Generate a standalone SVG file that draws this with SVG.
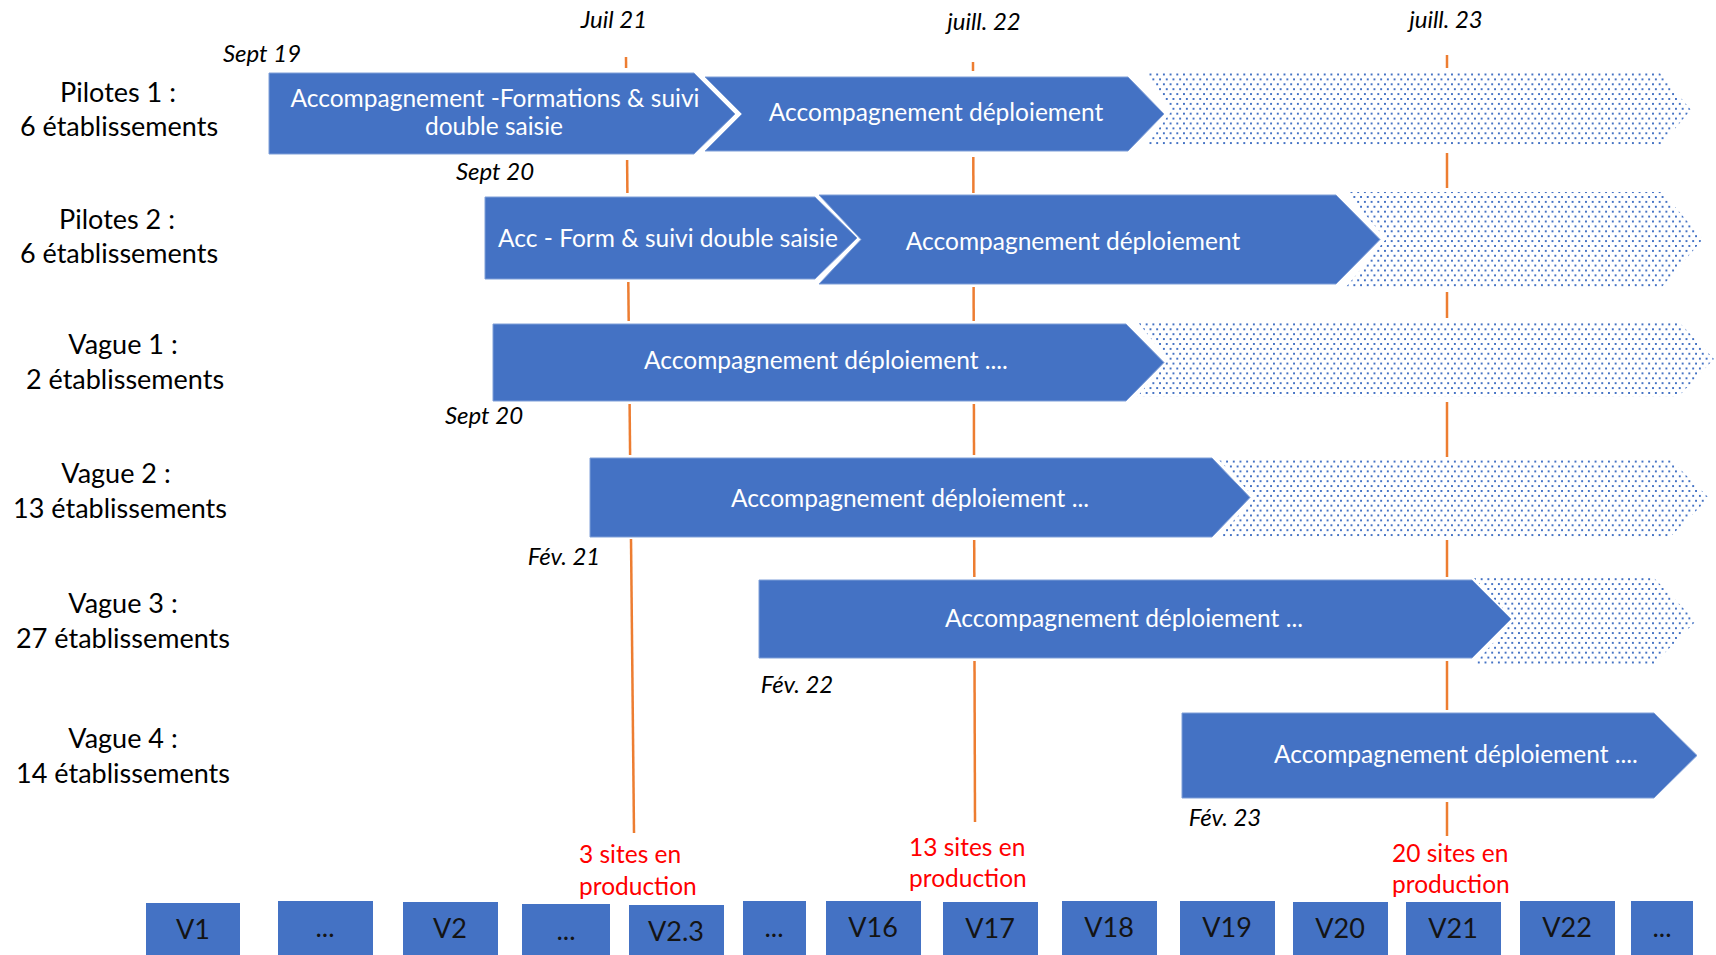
<svg xmlns="http://www.w3.org/2000/svg" width="1716" height="955" viewBox="0 0 1716 955">
<defs>
<pattern id="dots" width="6.7" height="9.8" patternUnits="userSpaceOnUse">
<rect width="6.7" height="9.8" fill="#ffffff"/>
<rect x="0" y="0" width="2.3" height="2.3" fill="#4472C4" shape-rendering="crispEdges"/>
<rect x="3.35" y="4.9" width="2.3" height="2.3" fill="#4472C4" shape-rendering="crispEdges"/>
</pattern>
</defs>
<style>
.bar{fill:#4472C4;stroke:#7f9fd8;stroke-width:1}
.hatch{fill:url(#dots)}
.lbl{font-family:Lato,"Open Sans",sans-serif;font-size:27px;fill:#000;text-anchor:middle}
.bt{font-family:Lato,"Open Sans",sans-serif;font-size:24.5px;fill:#fff;text-anchor:middle}
.dt{font-family:Lato,"Open Sans",sans-serif;font-size:24px;font-style:italic;fill:#000;text-anchor:middle}
.red{font-family:Lato,"Open Sans",sans-serif;font-size:24.5px;fill:#FF0000}
.box{fill:#4472C4}
.bx{font-family:Lato,"Open Sans",sans-serif;font-size:27px;fill:#141414;text-anchor:middle}
.ol{stroke:#ED7D31;stroke-width:2.5;fill:none}
</style>
<rect width="1716" height="955" fill="#ffffff"/>

<g id="connectors">
<line class="ol" x1="626" y1="57" x2="626.1" y2="68"/>
<line class="ol" x1="627.1" y1="160" x2="627.4" y2="193"/>
<line class="ol" x1="628.3" y1="282" x2="628.7" y2="321"/>
<line class="ol" x1="629.6" y1="404" x2="630.1" y2="455"/>
<line class="ol" x1="631" y1="539" x2="634" y2="833"/>
<line class="ol" x1="973" y1="62" x2="973" y2="71"/>
<line class="ol" x1="973.3" y1="157" x2="973.4" y2="193"/>
<line class="ol" x1="973.6" y1="287" x2="973.7" y2="321"/>
<line class="ol" x1="973.9" y1="404" x2="974" y2="455"/>
<line class="ol" x1="974.2" y1="540" x2="974.3" y2="577"/>
<line class="ol" x1="974.5" y1="661" x2="975" y2="822"/>
<line class="ol" x1="1447" y1="55" x2="1447" y2="68"/>
<line class="ol" x1="1447" y1="153" x2="1447" y2="188"/>
<line class="ol" x1="1447" y1="292" x2="1447" y2="318"/>
<line class="ol" x1="1447" y1="402" x2="1447" y2="457"/>
<line class="ol" x1="1447" y1="540" x2="1447" y2="577"/>
<line class="ol" x1="1447" y1="661" x2="1447" y2="710"/>
<line class="ol" x1="1447" y1="802" x2="1447" y2="836"/>
</g>

<g id="dates">
<text class="dt" x="262" y="62">Sept 19</text>
<text class="dt" x="614" y="28">Juil 21</text>
<text class="dt" x="984" y="30">juill. 22</text>
<text class="dt" x="1446" y="28">juill. 23</text>
<text class="dt" x="495" y="180">Sept 20</text>
<text class="dt" x="484" y="424">Sept 20</text>
<text class="dt" x="564" y="565">Fév. 21</text>
<text class="dt" x="797" y="693">Fév. 22</text>
<text class="dt" x="1225" y="826">Fév. 23</text>
</g>

<g id="pilotes1">
<text class="lbl" x="118" y="102">Pilotes 1 :</text>
<text class="lbl" x="119" y="136">6 établissements</text>
<polygon class="hatch" points="1146,73 1660,73 1691,110 1660,146 1146,146 1172,110"/>
<polygon class="bar" points="269,73 694,73 735,114 694,154 269,154"/>
<text class="bt" x="495" y="107">Accompagnement -Formations &amp; suivi</text>
<text class="bt" x="494" y="135">double saisie</text>
<polygon class="bar" points="705,77 1128,77 1164,114 1128,151 705,151 742,114"/>
<text class="bt" x="936" y="121">Accompagnement déploiement</text>
</g>

<g id="pilotes2">
<text class="lbl" x="117" y="229">Pilotes 2 :</text>
<text class="lbl" x="119" y="263">6 établissements</text>
<polygon class="hatch" points="1346,192 1662,192 1703,239 1662,287 1346,287 1386,239"/>
<polygon class="bar" points="819,195 1336,195 1380,239.5 1336,284 819,284 861,239.5"/>
<text class="bt" x="1073" y="250">Accompagnement déploiement</text>
<polygon class="bar" points="485,197 815,197 857,238 815,279 485,279"/>
<text class="bt" x="668" y="247">Acc - Form &amp; suivi double saisie</text>
</g>

<g id="vague1">
<text class="lbl" x="123" y="354">Vague 1 :</text>
<text class="lbl" x="125" y="389">2 établissements</text>
<polygon class="hatch" points="1137,321 1678,321 1714,359 1678,397 1137,397 1168,360"/>
<polygon class="bar" points="493,324 1126,324 1164,362.5 1126,401 493,401"/>
<text class="bt" x="826" y="369">Accompagnement déploiement ....</text>
</g>

<g id="vague2">
<text class="lbl" x="116" y="483">Vague 2 :</text>
<text class="lbl" x="120" y="518">13 établissements</text>
<polygon class="hatch" points="1218,459 1670,459 1709,498 1670,537 1218,537 1255,498"/>
<polygon class="bar" points="590,458 1212,458 1250,497.5 1212,537 590,537"/>
<text class="bt" x="910" y="507">Accompagnement déploiement ...</text>
</g>

<g id="vague3">
<text class="lbl" x="123" y="613">Vague 3 :</text>
<text class="lbl" x="123" y="648">27 établissements</text>
<polygon class="hatch" points="1473,577 1653,577 1696,621 1653,665 1473,665 1514,620"/>
<polygon class="bar" points="759,580 1472,580 1511,619 1472,658 759,658"/>
<text class="bt" x="1124" y="627">Accompagnement déploiement ...</text>
</g>

<g id="vague4">
<text class="lbl" x="123" y="748">Vague 4 :</text>
<text class="lbl" x="123" y="783">14 établissements</text>
<polygon class="bar" points="1182,713 1654,713 1697,755.5 1654,798 1182,798"/>
<text class="bt" x="1456" y="763">Accompagnement déploiement ....</text>
</g>

<g id="milestones">
<text class="red" x="579" y="863">3 sites en</text>
<text class="red" x="579" y="895">production</text>
<text class="red" x="909" y="856">13 sites en</text>
<text class="red" x="909" y="887">production</text>
<text class="red" x="1392" y="862">20 sites en</text>
<text class="red" x="1392" y="893">production</text>
</g>

<g id="versions">
<rect class="box" x="146" y="903" width="94" height="52"/><text class="bx" x="193" y="939">V1</text>
<rect class="box" x="278" y="901" width="95" height="54"/><text class="bx" x="325" y="937">...</text>
<rect class="box" x="403" y="902" width="95" height="53"/><text class="bx" x="450" y="938">V2</text>
<rect class="box" x="522" y="904" width="88" height="51"/><text class="bx" x="566" y="940">...</text>
<rect class="box" x="629" y="905" width="95" height="50"/><text class="bx" x="676" y="941">V2.3</text>
<rect class="box" x="743" y="901" width="63" height="54"/><text class="bx" x="774" y="937">...</text>
<rect class="box" x="826" y="901" width="95" height="54"/><text class="bx" x="873" y="937">V16</text>
<rect class="box" x="943" y="902" width="95" height="53"/><text class="bx" x="990" y="938">V17</text>
<rect class="box" x="1062" y="901" width="95" height="54"/><text class="bx" x="1109" y="937">V18</text>
<rect class="box" x="1180" y="901" width="95" height="54"/><text class="bx" x="1227" y="937">V19</text>
<rect class="box" x="1293" y="902" width="95" height="53"/><text class="bx" x="1340" y="938">V20</text>
<rect class="box" x="1406" y="902" width="95" height="53"/><text class="bx" x="1453" y="938">V21</text>
<rect class="box" x="1520" y="901" width="95" height="54"/><text class="bx" x="1567" y="937">V22</text>
<rect class="box" x="1631" y="901" width="62" height="54"/><text class="bx" x="1662" y="937">...</text>
</g>
</svg>
